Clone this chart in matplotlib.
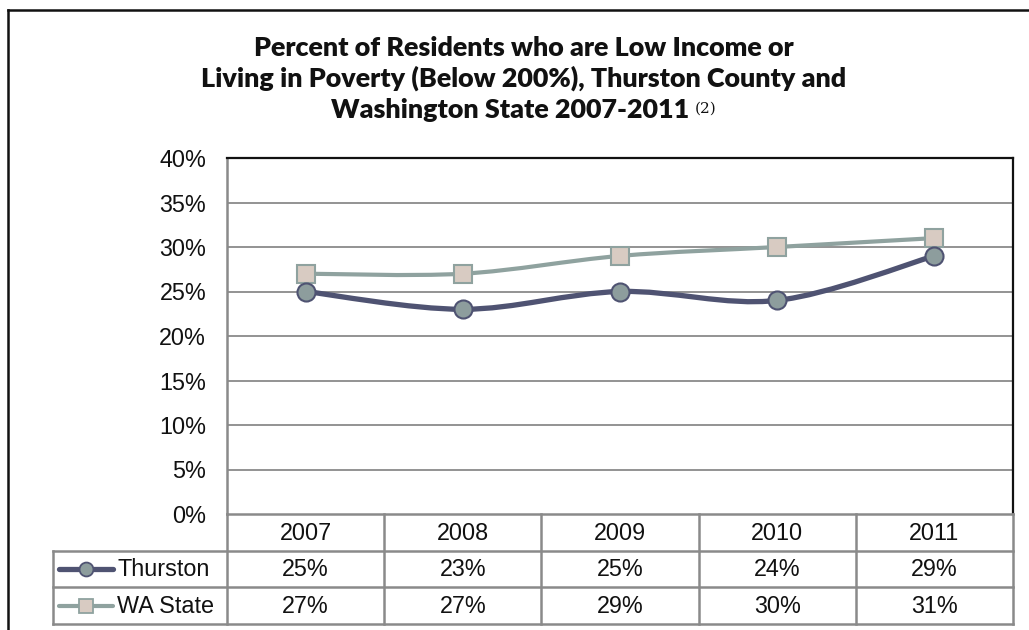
import numpy as np
import matplotlib
import matplotlib.pyplot as plt
from matplotlib.path import Path
from matplotlib.patches import PathPatch
from matplotlib.lines import Line2D

matplotlib.use('Agg')

# --- datos ---
years = ["2007", "2008", "2009", "2010", "2011"]
thurston = [25, 23, 25, 24, 29]
wa_state = [27, 27, 29, 30, 31]
series_names = ["Thurston", "WA State"]
y_ticks = [0, 5, 10, 15, 20, 25, 30, 35, 40]

title_lines = ["Percent of Residents who are Low Income or",
               "Living in Poverty (Below 200%), Thurston County and",
               "Washington State 2007-2011"]
title_note = "(2)"

# --- estilos ---
W, H = 1029, 630
GRID = "#8a8a8a"
C_TH = "#4f5372"
C_TH_FILL = "#8d9d9d"
C_WA = "#8fa29f"
C_WA_FILL = "#d8cbc2"
TXT = "#111111"
FONT = "Liberation Sans"
FS = 16.8


def px(x, y):
    # pixeles de la imagen -> fracciones de figura
    return x / W, 1 - y / H


def smooth_path(xs, ys):
    # curva suavizada tipo Excel (Catmull-Rom como Bezier cubica)
    pts = np.column_stack([xs, ys]).astype(float)
    n = len(pts)
    verts = [pts[0]]
    codes = [Path.MOVETO]
    for i in range(n - 1):
        p0 = pts[i - 1] if i > 0 else pts[i]
        p1 = pts[i]
        p2 = pts[i + 1]
        p3 = pts[i + 2] if i + 2 < n else pts[i + 1]
        c1 = p1 + (p2 - p0) / 6
        c2 = p2 - (p3 - p1) / 6
        verts += [c1, c2, p2]
        codes += [Path.CURVE4] * 3
    return Path(verts, codes)


fig = plt.figure(figsize=(W / 100, H / 100), dpi=100)
fig.patch.set_facecolor("white")

# marco exterior (sale por la derecha y abajo)
fig.add_artist(Line2D([8 / W, 8 / W], [1 - 10 / H, -0.1], color="#111111", lw=1.8,
                      transform=fig.transFigure))
fig.add_artist(Line2D([8 / W, 1.1], [1 - 10 / H, 1 - 10 / H], color="#111111", lw=1.8,
                      transform=fig.transFigure))

# --- grafico principal ---
left, right, top, bottom = 227, 1013, 158, 514
ax = fig.add_axes([left / W, 1 - bottom / H, (right - left) / W, (bottom - top) / H])
ax.set_xlim(-0.5, len(years) - 0.5)
ax.set_ylim(0, 40)
ax.set_yticks(y_ticks)
ax.set_yticklabels([f"{v}%" for v in y_ticks], fontsize=FS, family=FONT, color=TXT)
ax.set_xticks([])
ax.tick_params(axis="y", length=0, pad=15)
for v in y_ticks[1:-1]:
    ax.axhline(v, color=GRID, lw=1.3, zorder=1)
ax.spines["top"].set_color("#111111")
ax.spines["right"].set_color("#111111")
ax.spines["top"].set_linewidth(1.6)
ax.spines["right"].set_linewidth(1.6)
ax.spines["left"].set_color(GRID)
ax.spines["left"].set_linewidth(1.8)
ax.spines["bottom"].set_color(GRID)
ax.spines["bottom"].set_linewidth(1.8)

x = np.arange(len(years))
series = [
    (wa_state, C_WA, C_WA_FILL, "s", 3.0, 13),
    (thurston, C_TH, C_TH_FILL, "o", 3.8, 13),
]
for vals, col, fill, mk, lw, ms in series:
    ax.add_patch(PathPatch(smooth_path(x, vals), facecolor="none", edgecolor=col,
                           lw=lw, zorder=3, capstyle="round", joinstyle="round"))
    ax.plot(x, vals, ls="none", marker=mk, ms=ms, mfc=fill, mec=col, mew=1.5, zorder=4)

# --- tabla de datos ---
t_left, t_top, row_h = 53, 514, 36.7
col_w = (right - left) / len(years)
leg_w = (left - t_left) / col_w
tax = fig.add_axes([t_left / W, 1 - (t_top + 3 * row_h) / H,
                    (right - t_left) / W, 3 * row_h / H])
tax.set_xlim(-0.5 - leg_w, len(years) - 0.5)
tax.set_ylim(3, 0)
tax.axis("off")
lk = dict(color=GRID, lw=1.8, clip_on=False, solid_capstyle="projecting")
x_l, x_r = -0.5 - leg_w, len(years) - 0.5
for r in [1, 2, 3]:
    tax.plot([x_l, x_r], [r, r], **lk)
for c in range(len(years) + 1):
    tax.plot([c - 0.5, c - 0.5], [0, 3], **lk)
tax.plot([x_l, x_l], [1, 3], **lk)

for i, yr in enumerate(years):
    tax.text(i, 0.52, yr, ha="center", va="center", fontsize=FS, family=FONT, color=TXT)

table_rows = [(series_names[0], thurston, C_TH, C_TH_FILL, "o", 3.8),
              (series_names[1], wa_state, C_WA, C_WA_FILL, "s", 3.0)]
for r, (name, vals, col, fill, mk, lw) in enumerate(table_rows, start=1):
    yc = r + 0.5
    for i, v in enumerate(vals):
        tax.text(i, yc + 0.02, f"{v}%", ha="center", va="center", fontsize=FS,
                 family=FONT, color=TXT)
    k0 = x_l + 6 / col_w
    k1 = x_l + 60 / col_w
    tax.plot([k0, k1], [yc, yc], color=col, lw=lw, solid_capstyle="round", clip_on=False)
    tax.plot([(k0 + k1) / 2], [yc], marker=mk, ms=10, mfc=fill, mec=col, mew=1.3,
             clip_on=False)
    tax.text(x_l + 64 / col_w, yc + 0.02, name, ha="left", va="center", fontsize=FS,
             family=FONT, color=TXT)

# --- titulo ---
# ajustar el tamano para que las dos primeras lineas midan como en el original
tkw = dict(ha="center", va="baseline", fontweight="heavy", family="Lato", color=TXT)
cx = 524
renderer = fig.canvas.get_renderer()
probe = [fig.text(0.5, 0.5, s, fontsize=10, **tkw) for s in title_lines[:2]]
w10 = [p.get_window_extent(renderer).width for p in probe]
for p in probe:
    p.remove()
tfs = 10 * ((538 / w10[0]) + (657 / w10[1])) / 2

fig.text(*px(cx, 56), title_lines[0], fontsize=tfs, **tkw)
fig.text(*px(cx, 87), title_lines[1], fontsize=tfs, **tkw)
t3 = fig.text(0, 1 - 118 / H, title_lines[2], fontsize=tfs,
              **dict(tkw, ha="left"))
note = fig.text(0, 1 - 113 / H, title_note, ha="left", va="baseline",
                fontsize=11, family="DejaVu Serif", color=TXT)
w3 = t3.get_window_extent(renderer).width
wn = note.get_window_extent(renderer).width
gap = 6
x0 = cx - (w3 + gap + wn) / 2
t3.set_x(x0 / W)
note.set_x((x0 + w3 + gap) / W)

fig.savefig("out.png", dpi=100)
